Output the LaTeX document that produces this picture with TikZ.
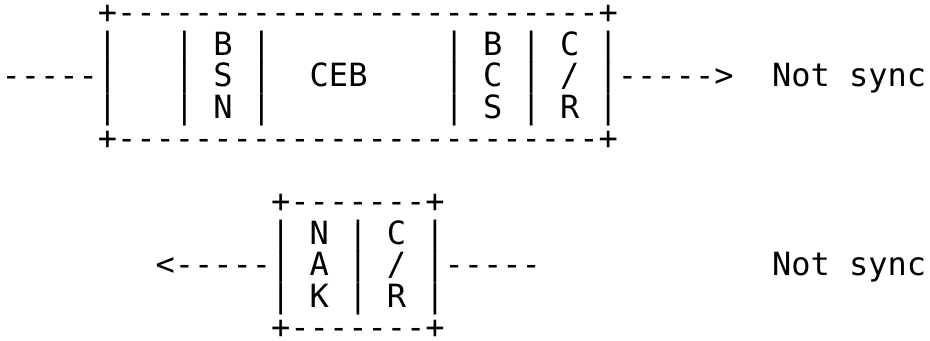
\documentclass[tikz,border=0pt]{standalone}
\usepackage{fontspec}
\setmonofont{DejaVu Sans Mono}
\usetikzlibrary{matrix}
\tikzset{
  asciiline/.style={anchor=base west, inner sep=0pt, text height=17pt, text depth=0pt},
}
\begin{document}
\begin{tikzpicture}[font=\ttfamily\fontsize{24pt}{24pt}\selectfont]
  \useasboundingbox (0,0) rectangle (697.5pt,-255pt);
  \matrix(frames) [matrix of nodes, anchor=north west, inner sep=0pt, outer sep=0pt, row sep=6.625pt, nodes in empty cells, nodes={asciiline}] at (1.125pt,-0.625pt) {
  ~~~~~+-------------------------+ \\
  ~~~~~|~~~|~B~|~~~~~~~~~|~B~|~C~| \\
  -----|~~~|~S~|~~CEB~~~~|~C~|~/~|----->~~Not~sync \\
  ~~~~~|~~~|~N~|~~~~~~~~~|~S~|~R~| \\
  ~~~~~+-------------------------+ \\
   \\
  ~~~~~~~~~~~~~~+-------+ \\
  ~~~~~~~~~~~~~~|~N~|~C~| \\
  ~~~~~~~~<-----|~A~|~/~|-----~~~~~~~~~~~~Not~sync \\
  ~~~~~~~~~~~~~~|~K~|~R~| \\
  ~~~~~~~~~~~~~~+-------+ \\
  };
\end{tikzpicture}
\end{document}
